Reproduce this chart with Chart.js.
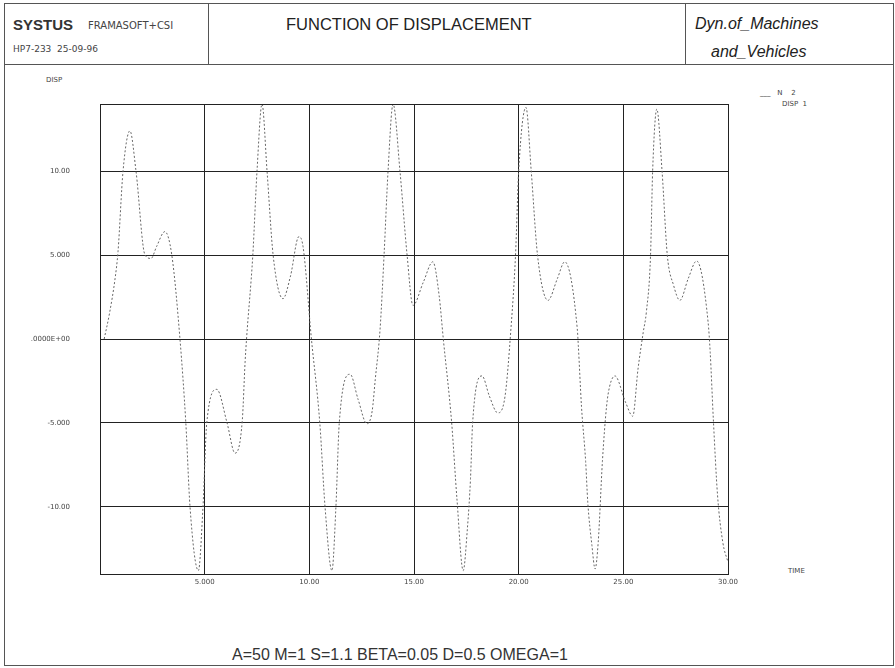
<!DOCTYPE html>
<html>
<head>
<meta charset="utf-8">
<title>Function of displacement</title>
<script src="https://cdn.jsdelivr.net/npm/chart.js@4.4.0/dist/chart.umd.min.js"></script>
<style>
  body { margin: 0; background: #fff; font-family: "Liberation Sans", Arial, sans-serif; color: #222; }
  #page { position: relative; width: 895px; height: 668px; overflow: hidden; }
  #chart { position: absolute; left: 0; top: 0; }
  .box { position: absolute; border: 1px solid #555; box-sizing: border-box; }
  .t { position: absolute; white-space: nowrap; }
  .tiny { font-family: "DejaVu Sans", sans-serif; font-size: 7px; color: #444; }
</style>
</head>
<body>
<div id="page">
  <div class="box" style="left:4px; top:3px; width:890px; height:663px;"></div>
  <div class="box" style="left:4px; top:3px; width:890px; height:62px;"></div>
  <div class="box" style="left:208px; top:3px; width:478px; height:62px;"></div>

  <div class="t" style="left:13px; top:16px; font-size:15px; font-weight:bold; color:#333;">SYSTUS</div>
  <div class="t tiny" style="left:88px; top:20px; font-size:10px;">FRAMASOFT+CSI</div>
  <div class="t tiny" style="left:13px; top:44px; font-size:9px;">HP7-233&nbsp;&nbsp;25-09-96</div>
  <div class="t" style="left:286px; top:15px; font-size:16.5px;">FUNCTION OF DISPLACEMENT</div>
  <div class="t" style="left:695px; top:15px; font-size:16px; font-style:italic;">Dyn.of_Machines</div>
  <div class="t" style="left:711px; top:43px; font-size:16px; font-style:italic;">and_Vehicles</div>

  <div class="t tiny" style="left:46px; top:76px;">DISP</div>
  <div class="t tiny" style="left:760px; top:89px;">___&nbsp;&nbsp;&nbsp;N&nbsp;&nbsp;&nbsp;&nbsp;2</div>
  <div class="t tiny" style="left:782px; top:100px;">DISP&nbsp;&nbsp;1</div>
  <div class="t tiny" style="left:788px; top:567px;">TIME</div>

  <div class="t" style="left:232px; top:646px; font-size:16px; color:#333;">A=50 M=1 S=1.1 BETA=0.05 D=0.5 OMEGA=1</div>

  <canvas id="chart" width="895" height="668"></canvas>
</div>
<script>
// values (time, displacement)
const timeValues = [0.2, 0.45, 0.72, 0.86, 1.1, 1.43, 1.72, 2.15, 2.44, 2.7, 3.1, 3.43, 3.82, 4.1, 4.3, 4.7,
  4.92, 5.1, 5.58, 6.07, 6.45, 6.8, 6.93, 7.0, 7.3, 7.5, 7.74, 7.98, 8.27, 8.74, 9.1, 9.5, 9.7, 10.1,
  10.5, 10.75, 11.08, 11.27, 11.43, 11.95, 12.33, 12.75, 13.0, 13.15, 13.38, 13.57, 13.76, 14.0, 14.33,
  14.67, 14.95, 15.45, 15.9, 16.2, 16.4, 16.8, 17.05, 17.35, 17.55, 17.7, 17.8, 18.25, 18.6, 19.0, 19.35,
  19.63, 19.85, 20.0, 20.35, 20.6, 20.9, 21.4, 21.85, 22.2, 22.8, 22.85, 23.0, 23.2, 23.3, 23.5, 23.65,
  23.8, 24.0, 24.2, 24.35, 24.6, 25.1, 25.45, 25.7, 25.95, 26.1, 26.3, 26.4, 26.6, 26.85, 27.1, 27.4,
  27.7, 28.1, 28.5, 29.05, 29.15, 29.3, 29.5, 29.75, 30.0];
const dispValues = [0, 1.5, 3.6, 5.2, 10.0, 12.4, 10.0, 5.0, 4.8, 5.5, 6.4, 5.0, 0, -5, -10, -13.8,
  -10, -5, -3.0, -5.0, -6.8, -4.8, -1.4, 0, 5, 10, 14.0, 10, 5, 2.4, 3.75, 6.1, 5.5, 0,
  -5, -10, -13.8, -10, -5, -2.1, -3.6, -5.05, -4.3, -2.4, 0.6, 5, 10, 14.0, 10,
  5, 2.0, 3.4, 4.6, 2.6, 0, -5, -9.5, -13.8, -11.3, -8.3, -5, -2.2, -3.4, -4.4, -3.4,
  0.6, 5, 10, 13.8, 10, 5, 2.3, 3.6, 4.6, 0.6, -0.4, -4, -7.3, -9.7, -12.3, -13.7,
  -12.1, -7.3, -4, -2.8, -2.2, -3.75, -4.6, -1.8, 0.4, 1.6, 5, 10, 13.7, 10, 5, 3.2,
  2.3, 3.6, 4.65, 1.0, -0.8, -4.8, -9.3, -12.1, -13.3];

const xTicks = [5, 10, 15, 20, 25, 30];
const xTickLabels = ["5.000", "10.00", "15.00", "20.00", "25.00", "30.00"];
const yTicks = [-10, -5, 0, 5, 10];
const yTickLabels = ["-10.00", "-5.000", ".0000E+00", "5.000", "10.00"];

const points = timeValues.map((t, i) => ({ x: t, y: dispValues[i] }));

// chart.js only draws left/bottom borders, so close the box
const plotBox = {
  id: "plotBox",
  afterDraw(chart) {
    const a = chart.chartArea;
    const ctx = chart.ctx;
    ctx.save();
    ctx.strokeStyle = "#222";
    ctx.lineWidth = 1;
    ctx.strokeRect(Math.round(a.left) + 0.5, Math.round(a.top) + 0.5, Math.round(a.right - a.left), Math.round(a.bottom - a.top));
    ctx.restore();
  }
};

new Chart(document.getElementById("chart"), {
  type: "line",
  data: {
    datasets: [{
      label: "DISP 1",
      data: points,
      borderColor: "#666",
      borderWidth: 1,
      borderDash: [2, 2],
      pointRadius: 0,
      cubicInterpolationMode: "monotone",
      fill: false
    }]
  },
  options: {
    responsive: false,
    animation: false,
    layout: { padding: { left: 20, right: 167, top: 104, bottom: 74 } },
    plugins: { legend: { display: false }, tooltip: { enabled: false } },
    scales: {
      x: {
        type: "linear",
        min: 0,
        max: 30,
        afterFit: (s) => { s.height = 20; },
        afterBuildTicks: (s) => { s.ticks = xTicks.map(v => ({ value: v })); },
        grid: { color: "#222", lineWidth: 1, drawTicks: false },
        border: { color: "#222" },
        ticks: {
          padding: 4,
          maxRotation: 0,
          color: "#444",
          font: { family: "DejaVu Sans", size: 7 },
          callback: (v) => xTickLabels[xTicks.indexOf(v)]
        }
      },
      y: {
        min: -14,
        max: 14,
        afterFit: (s) => { s.width = 80; },
        afterBuildTicks: (s) => { s.ticks = yTicks.map(v => ({ value: v })); },
        grid: { color: "#222", lineWidth: 1, drawTicks: false },
        border: { color: "#222" },
        ticks: {
          padding: 30,
          color: "#444",
          font: { family: "DejaVu Sans", size: 7 },
          callback: (v) => yTickLabels[yTicks.indexOf(v)]
        }
      }
    }
  },
  plugins: [plotBox]
});
</script>
</body>
</html>
